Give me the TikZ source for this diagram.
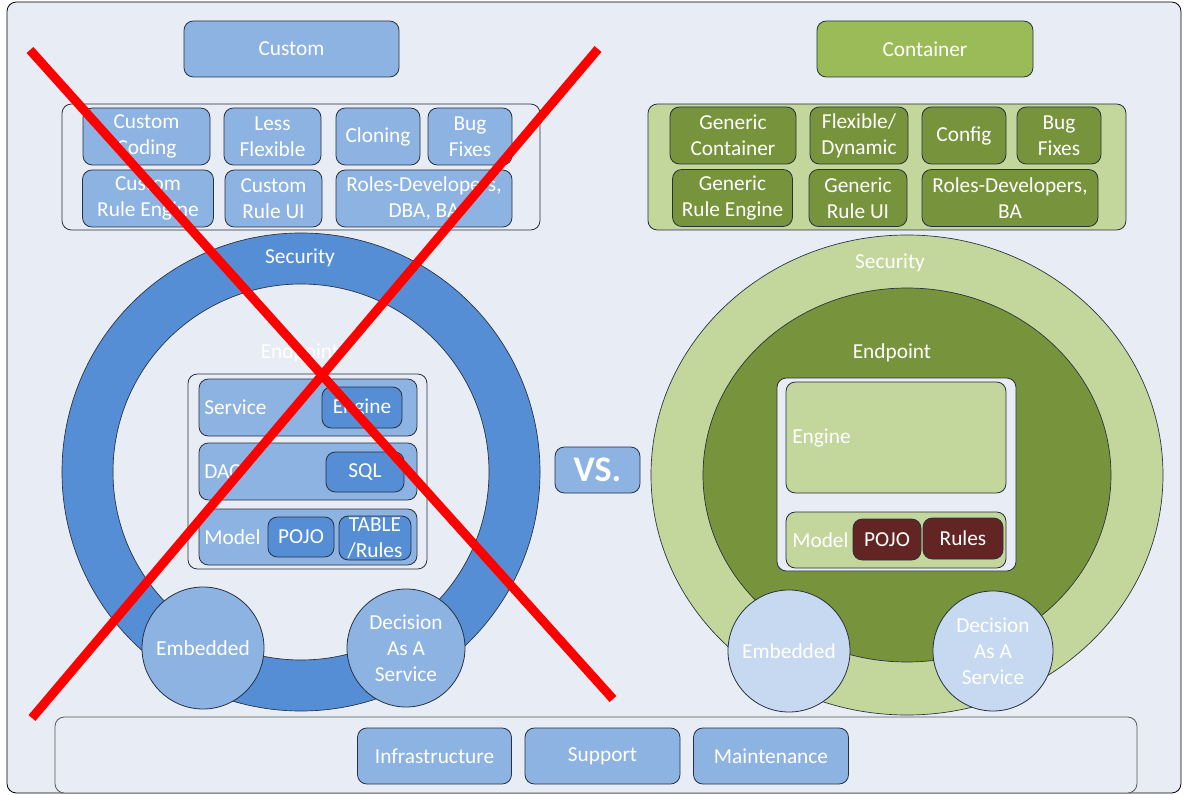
\documentclass[tikz,border=0pt]{standalone}
\usepackage{fontspec}
\setmainfont{Carlito}
\definecolor{bgc}{HTML}{E7ECF5}
\definecolor{lblue}{HTML}{8DB3E2}
\definecolor{mblue}{HTML}{558ED5}
\definecolor{pblue}{HTML}{C6D9F1}
\definecolor{cgreen}{HTML}{9BBB59}
\definecolor{dgreen}{HTML}{77933C}
\definecolor{lgreen}{HTML}{C3D69B}
\definecolor{maroon}{HTML}{632523}
\definecolor{edge}{HTML}{27303F}
\tikzset{
  sz/.style 2 args={minimum width=#1*0.75pt, minimum height=#2*0.75pt},
  bx/.style={draw=edge, line width=0.6pt, rounded corners=7pt, inner sep=0pt, align=center, text=white,
    font=\fontsize{16}{19.5}\selectfont},
  lbl/.style={text=white, inner sep=0pt, font=\fontsize{16}{19.5}\selectfont},
  rnd/.style={draw=edge, line width=0.6pt, circle, inner sep=0pt, align=center, text=white,
    font=\fontsize{16}{19.5}\selectfont},
  redx/.style={draw=red, line width=6.8pt}
}
\begin{document}
\begin{tikzpicture}[x=0.75pt,y=-0.75pt]
\useasboundingbox (0,0) rectangle (1183,795);
\fill[white] (0,0) rectangle (1183,795);
% frame
\node[draw=black, line width=0.6pt, fill=bgc, rounded corners=7pt, sz={1174}{791}, inner sep=0pt] (frame) at (594,397.5) {};

% top boxes
\node[bx, fill=lblue, sz={215}{56}] (custom) at (291.5,49) {Custom};
\node[bx, fill=cgreen, sz={216}{56}] (container) at (925,49) {Container};

\node[bx, fill=bgc, sz={478}{126}] (lgroup) at (301,167) {};
\node[bx, fill=lblue, sz={127}{57}] (ccoding) at (146.5,136.5) {Custom\\Coding};
\node[bx, fill=lblue, sz={97}{57}] (lessflex) at (272.5,136.5) {Less\\Flexible};
\node[bx, fill=lblue, sz={84}{57}] (cloning) at (378,136.5) {Cloning};
\node[bx, fill=lblue, sz={84}{57}] (lbug) at (470,136.5) {Bug\\Fixes};
\node[bx, fill=lblue, sz={131}{57}] (cre) at (148,198.5) {Custom\\Rule Engine};
\node[bx, fill=lblue, sz={97}{57}] (cui) at (273.5,198.5) {Custom\\Rule UI};
\node[bx, fill=lblue, sz={176}{57}] (lroles) at (424,198.5) {Roles-Developers,\\DBA, BA};

\node[bx, fill=lgreen, sz={478}{126}] (rgroup) at (887,167) {};
\node[bx, fill=dgreen, sz={126}{57}] (gcont) at (733,135.5) {Generic\\Container};
\node[bx, fill=dgreen, sz={98}{57}] (flex) at (859,135.5) {Flexible/\\Dynamic};
\node[bx, fill=dgreen, sz={84}{57}] (config) at (964,135.5) {Config};
\node[bx, fill=dgreen, sz={84}{57}] (rbug) at (1059,135.5) {Bug\\Fixes};
\node[bx, fill=dgreen, sz={120}{57}] (gre) at (732.5,198) {Generic\\Rule Engine};
\node[bx, fill=dgreen, sz={98}{57}] (gui) at (858,198) {Generic\\Rule UI};
\node[bx, fill=dgreen, sz={176}{57}] (rroles) at (1010,198) {Roles-Developers,\\BA};

% rings
\filldraw[even odd rule, fill=mblue, draw=edge, line width=0.5pt]
  (301,472) circle[radius=239] (301,472) circle[radius=188];
\filldraw[fill=lgreen, draw=edge, line width=0.5pt] (907,475) ellipse[x radius=256, y radius=240];
\filldraw[fill=dgreen, draw=edge, line width=0.5pt] (907,475) ellipse[x radius=204, y radius=187];

\node[lbl] (lsec) at (300,258) {Security};
\node[lbl] (lend) at (300,353) {Endpoint};
\node[lbl] (rsec) at (890,263) {Security};
\node[lbl] (rend) at (892,353) {Endpoint};

% left inner
\node[bx, fill=bgc, sz={239}{195}] (linner) at (307.5,471.5) {};
\node[bx, fill=lblue, sz={218}{57}] (service) at (308,407.5) {};
\node[bx, fill=mblue, sz={80}{41}] (lengine) at (362,407.5) {Engine};
\node[bx, fill=lblue, sz={218}{57}] (dao) at (308,471.5) {};
\node[bx, fill=mblue, sz={78}{40}] (sql) at (365,472) {SQL};
\node[bx, fill=lblue, sz={218}{56}] (lmodel) at (308,537) {};
\node[bx, fill=mblue, sz={66}{40}] (lpojo) at (301,537) {POJO};
\node[bx, fill=mblue, sz={72}{44}] (table) at (375,538) {TABLE\\/Rules};
\node[lbl, anchor=west] (servicet) at (204,407) {Service};
\node[lbl, anchor=west] (daot) at (204,472) {DAO};
\node[lbl, anchor=west] (lmodelt) at (204,537) {Model};

% right inner
\node[bx, fill=bgc, sz={239}{193}] (rinner) at (896.5,474.5) {};
\node[bx, fill=lgreen, sz={220}{111}] (rengine) at (896,437.5) {};
\node[lbl, anchor=west] (renginet) at (792,438) {Engine};
\node[bx, fill=lgreen, sz={220}{56}] (rmodel) at (896,540) {};
\node[lbl, anchor=west] (rmodelt) at (792,540) {Model};
\node[bx, fill=maroon, sz={68}{41}] (rpojo) at (887,539.5) {POJO};
\node[bx, fill=maroon, sz={80}{41}] (rules) at (963,538.5) {Rules};

% circles
\node[rnd, fill=lblue, minimum size=122*0.75pt] (lemb) at (203,648) {Embedded};
\node[rnd, fill=lblue, minimum size=118*0.75pt] (ldec) at (406,648) {Decision\\As A\\Service};
\node[rnd, fill=pblue, minimum size=122*0.75pt] (remb) at (789,651) {Embedded};
\node[rnd, fill=pblue, minimum size=120*0.75pt] (rdec) at (993,651) {Decision\\As A\\Service};

% bottom bar
\node[bx, draw=black!65, fill=bgc, sz={1082}{76}] (bar) at (596,755) {};
\node[bx, fill=lblue, sz={154}{56}] (infra) at (434.5,756) {Infrastructure};
\node[bx, fill=lblue, sz={155}{56}] (support) at (602.5,756) {Support};
\node[bx, fill=lblue, sz={155}{56}] (maint) at (771,756) {Maintenance};

% VS
\node[bx, fill=lblue, sz={85}{46}, font=\fontsize{27}{30}\selectfont\bfseries] (vs) at (597.5,470) {VS.};

% red X
\coordinate (x1a) at (30,50);
\coordinate (x1b) at (613,699);
\coordinate (x2a) at (598,49);
\coordinate (x2b) at (32,718);
\draw[redx] (x1a) -- (x1b);
\draw[redx] (x2a) -- (x2b);
\end{tikzpicture}
\end{document}
